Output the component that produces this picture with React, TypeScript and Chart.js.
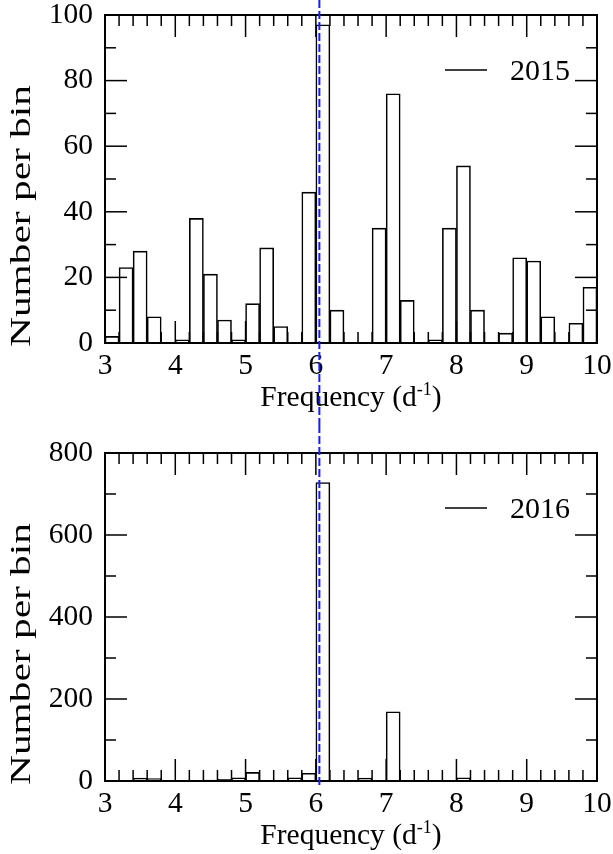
import React, { useEffect, useRef } from "react";
import { Chart, registerables } from "chart.js";

Chart.register(...registerables);

// Left edges of the frequency bins (d^-1), each bin is 0.2 wide.
const binStarts = [
  3.0, 3.2, 3.4, 3.6, 3.8, 4.0, 4.2, 4.4, 4.6, 4.8,
  5.0, 5.2, 5.4, 5.6, 5.8, 6.0, 6.2, 6.4, 6.6, 6.8,
  7.0, 7.2, 7.4, 7.6, 7.8, 8.0, 8.2, 8.4, 8.6, 8.8,
  9.0, 9.2, 9.4, 9.6, 9.8,
];
const binWidth = 0.2;

// Number of detections per bin.
const counts2015 = [
  2, 23, 28, 8, 0, 1, 38, 21, 7, 1,
  12, 29, 5, 0, 46, 97, 10, 0, 0, 35,
  76, 13, 0, 1, 35, 54, 10, 0, 3, 26,
  25, 8, 0, 6, 17,
];
const counts2016 = [
  0, 0, 7, 6, 0, 0, 0, 2, 4, 8,
  21, 0, 0, 8, 19, 728, 0, 0, 7, 0,
  169, 0, 0, 0, 0, 8, 0, 0, 0, 0,
  0, 0, 0, 0, 0,
];

const seasonLabels = ["2015", "2016"];
const yAxisMax = [100, 800];
const yAxisStep = [20, 200];

// Dominant frequency marked across both panels.
const markerFrequency = 6.05;

const xMin = 3;
const xMax = 10;

const FONT = '"Liberation Serif", "Times New Roman", serif';
const W = 613;

type PanelSpec = {
  label: string;
  counts: number[];
  yMax: number;
  yStep: number;
  height: number;
  padTop: number;
  xAxisHeight: number;
  markerToCanvasBottom: boolean;
};

function makeChart(canvas: HTMLCanvasElement, p: PanelSpec) {
  const decorations = {
    id: "frameTicksTitles",
    afterDatasetsDraw(chart: any) {
      const { ctx, chartArea: a, scales } = chart;
      const xs = scales.x;
      const ys = scales.y;
      ctx.save();
      ctx.strokeStyle = "#000";
      ctx.lineWidth = 1.5;
      const line = (x1: number, y1: number, x2: number, y2: number) => {
        ctx.beginPath();
        ctx.moveTo(x1, y1);
        ctx.lineTo(x2, y2);
        ctx.stroke();
      };
      // inward ticks on top and bottom edges: minor every 0.2, major every 1
      const nX = Math.round((xs.max - xs.min) / 0.2);
      for (let i = 0; i <= nX; i++) {
        const px = xs.getPixelForValue(xs.min + i * 0.2);
        const len = i % 5 === 0 ? 22 : 11;
        line(px, a.top, px, a.top + len);
        line(px, a.bottom, px, a.bottom - len);
      }
      // inward ticks on left and right edges: minor at half steps
      const half = p.yStep / 2;
      const nY = Math.round(p.yMax / half);
      for (let j = 0; j <= nY; j++) {
        const py = ys.getPixelForValue(j * half);
        const len = j % 2 === 0 ? 22 : 11;
        line(a.left, py, a.left + len, py);
        line(a.right, py, a.right - len, py);
      }
      // frame
      ctx.lineWidth = 2;
      ctx.strokeRect(a.left, a.top, a.right - a.left, a.bottom - a.top);

      // legend entry
      const ly = a.top + 55;
      ctx.lineWidth = 1.5;
      line(a.right - 152, ly, a.right - 110, ly);
      ctx.fillStyle = "#000";
      ctx.font = `30px ${FONT}`;
      ctx.textAlign = "left";
      ctx.textBaseline = "middle";
      ctx.fillText(chart.data.datasets[0].label, a.right - 87, ly + 2);
      ctx.restore();
    },
    afterDraw(chart: any) {
      const { ctx, chartArea: a, scales } = chart;
      ctx.save();
      ctx.fillStyle = "#000";

      // x-axis title with superscript unit
      const main = "Frequency (d";
      const sup = "-1";
      const close = ")";
      ctx.font = `29.5px ${FONT}`;
      const wMain = ctx.measureText(main).width;
      const wClose = ctx.measureText(close).width;
      ctx.font = `18px ${FONT}`;
      const wSup = ctx.measureText(sup).width;
      const total = wMain + wSup + wClose;
      const cx = (a.left + a.right) / 2;
      const base = a.bottom + 63;
      let x0 = cx - total / 2;
      ctx.textAlign = "left";
      ctx.textBaseline = "alphabetic";
      ctx.font = `29.5px ${FONT}`;
      ctx.fillText(main, x0, base);
      x0 += wMain;
      ctx.font = `18px ${FONT}`;
      ctx.fillText(sup, x0, base - 11);
      x0 += wSup;
      ctx.font = `29.5px ${FONT}`;
      ctx.fillText(close, x0, base);

      // y-axis title, drawn rotated and elongated along its length
      const yTitle = "Number per bin";
      ctx.font = `29px ${FONT}`;
      const wT = ctx.measureText(yTitle).width;
      const length = 262;
      ctx.translate(30, a.bottom + 4);
      ctx.rotate(-Math.PI / 2);
      ctx.scale(length / wT, 1);
      ctx.fillText(yTitle, 0, 0);
      ctx.restore();

      // dashed marker line at the dominant frequency
      const mx = scales.x.getPixelForValue(markerFrequency);
      ctx.save();
      ctx.strokeStyle = "#1a1aff";
      ctx.lineWidth = 2;
      ctx.setLineDash([8, 3]);
      ctx.beginPath();
      ctx.moveTo(mx, 0);
      ctx.lineTo(mx, p.markerToCanvasBottom ? chart.height : a.bottom + 4);
      ctx.stroke();
      ctx.restore();
    },
  };

  return new Chart(canvas, {
    type: "bar",
    data: {
      datasets: [
        {
          label: p.label,
          data: binStarts.map((s, i) => ({ x: s + binWidth / 2, y: p.counts[i] })),
          backgroundColor: "#ffffff",
          borderColor: "#000000",
          borderWidth: 1.6,
          barPercentage: 1,
          categoryPercentage: 1,
        },
      ],
    },
    options: {
      responsive: false,
      animation: false,
      devicePixelRatio: 1,
      layout: { padding: { top: p.padTop, right: 16, left: 0, bottom: 0 } },
      plugins: { legend: { display: false }, tooltip: { enabled: false } },
      scales: {
        x: {
          type: "linear",
          min: xMin,
          max: xMax,
          offset: false,
          grid: { display: false, drawTicks: false },
          border: { display: false },
          ticks: {
            stepSize: 1,
            padding: 6,
            color: "#000",
            maxRotation: 0,
            autoSkip: false,
            font: { family: FONT, size: 29.5 },
          },
          afterFit: (s: any) => {
            s.height = p.xAxisHeight;
            s.paddingLeft = 0;
            s.paddingRight = 0;
          },
        },
        y: {
          type: "linear",
          min: 0,
          max: p.yMax,
          grid: { display: false, drawTicks: false },
          border: { display: false },
          ticks: {
            stepSize: p.yStep,
            padding: 12,
            color: "#000",
            font: { family: FONT, size: 29.5 },
          },
          afterFit: (s: any) => {
            s.width = 105;
            s.paddingTop = 0;
            s.paddingBottom = 0;
          },
        },
      },
    },
    plugins: [decorations],
  } as any);
}

export default function App() {
  const topRef = useRef<HTMLCanvasElement>(null);
  const bottomRef = useRef<HTMLCanvasElement>(null);

  useEffect(() => {
    const panels: PanelSpec[] = [
      {
        label: seasonLabels[0],
        counts: counts2015,
        yMax: yAxisMax[0],
        yStep: yAxisStep[0],
        height: 425,
        padTop: 15,
        xAxisHeight: 82,
        markerToCanvasBottom: true,
      },
      {
        label: seasonLabels[1],
        counts: counts2016,
        yMax: yAxisMax[1],
        yStep: yAxisStep[1],
        height: 429,
        padTop: 28,
        xAxisHeight: 73,
        markerToCanvasBottom: false,
      },
    ];
    const c1 = makeChart(topRef.current!, panels[0]);
    const c2 = makeChart(bottomRef.current!, panels[1]);
    return () => {
      c1.destroy();
      c2.destroy();
    };
  }, []);

  return (
    <div style={{ position: "absolute", left: 0, top: 0, width: W, height: 854, background: "#fff" }}>
      <canvas ref={topRef} width={W} height={425} style={{ position: "absolute", left: 0, top: 0, width: W, height: 425 }} />
      <canvas ref={bottomRef} width={W} height={429} style={{ position: "absolute", left: 0, top: 425, width: W, height: 429 }} />
    </div>
  );
}
